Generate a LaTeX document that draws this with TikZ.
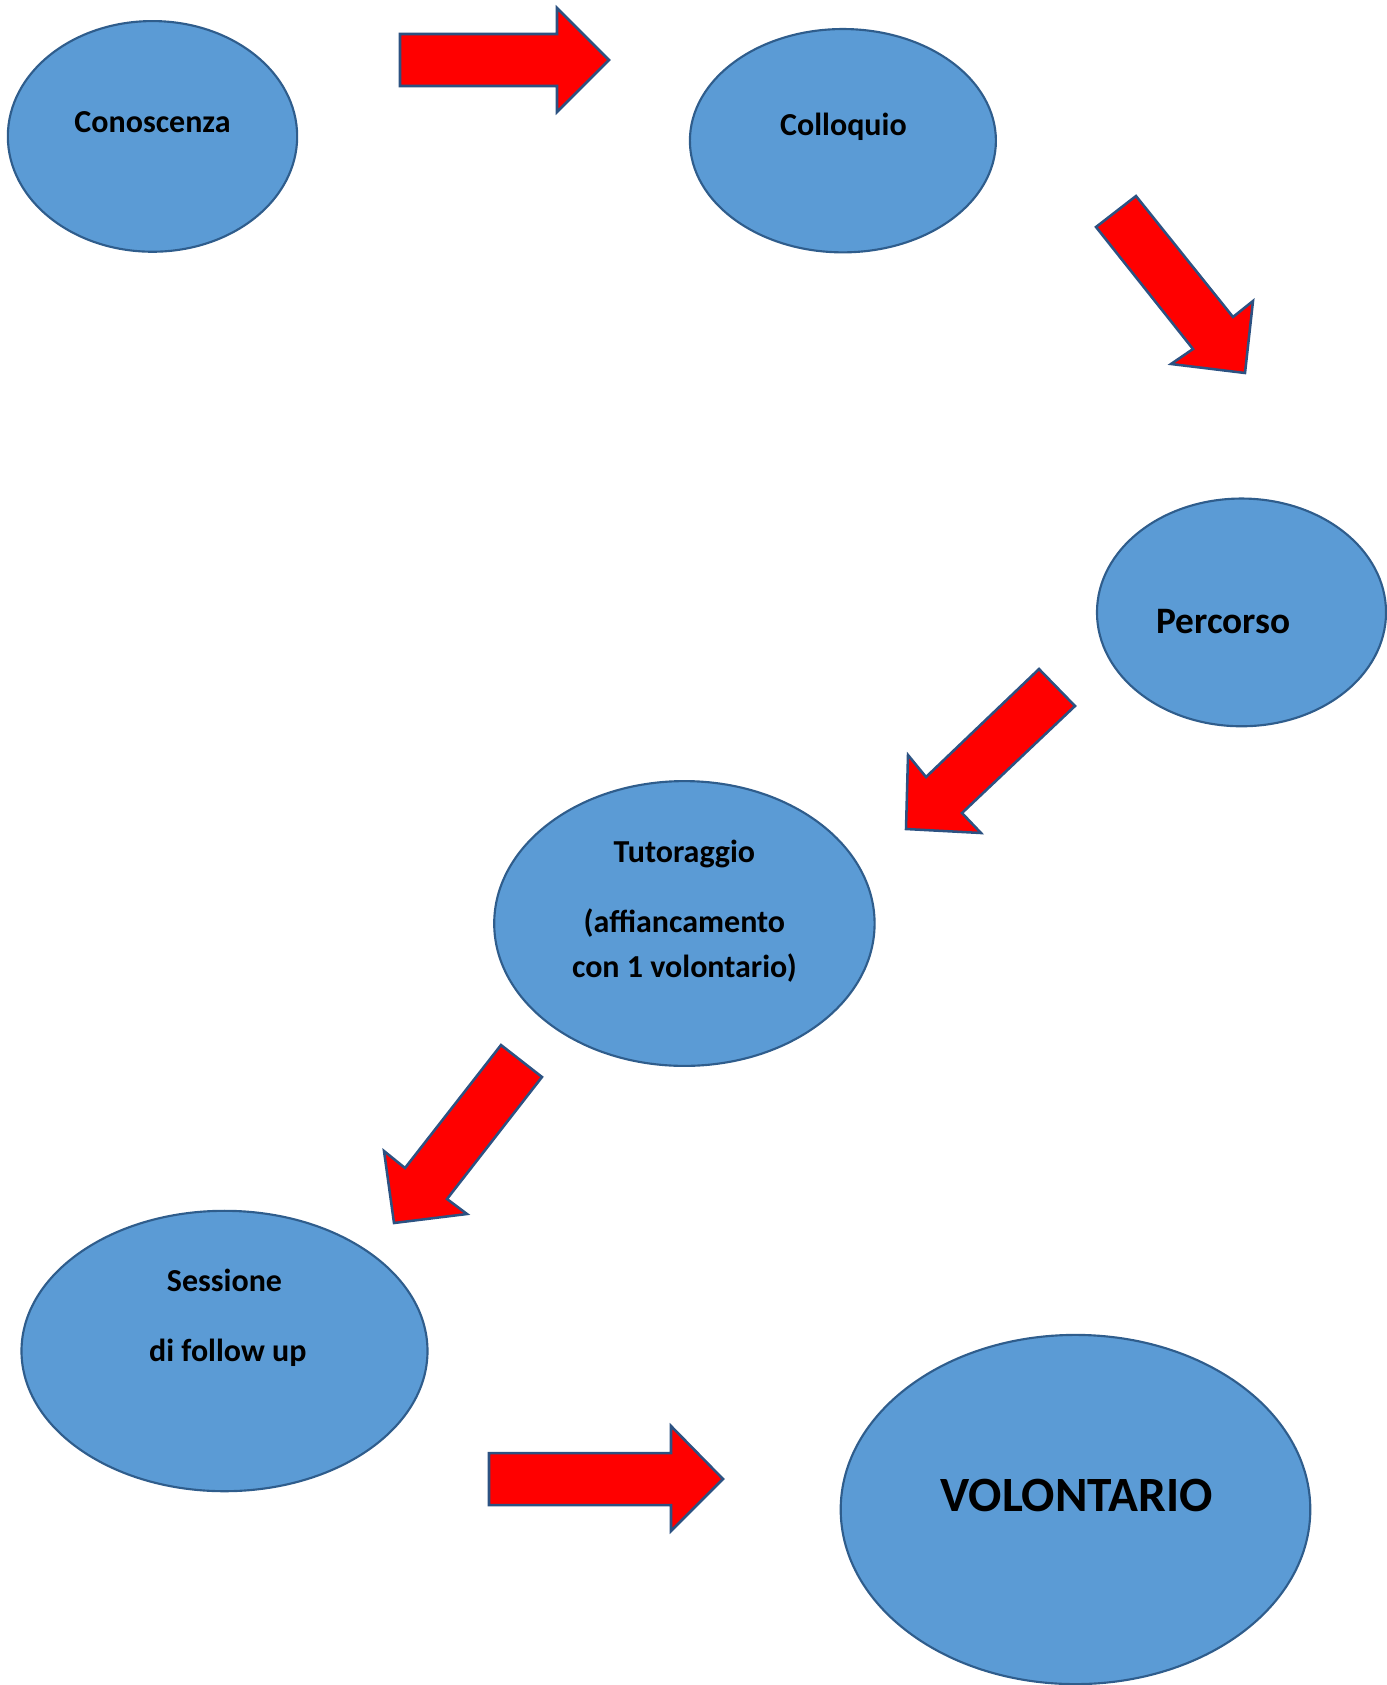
\documentclass[tikz,border=0pt]{standalone}
\usepackage{fontspec}
\setmainfont{Carlito}
\usetikzlibrary{shapes.geometric}
\definecolor{ellfill}{HTML}{5B9BD5}
\definecolor{elldraw}{HTML}{2F5D8C}
\definecolor{arrfill}{HTML}{FF0000}
\definecolor{arrdraw}{HTML}{2C5282}
\tikzset{
  ell/.style={ellipse, fill=ellfill, draw=elldraw, line width=1.6pt, inner sep=0pt},
  txt/.style={anchor=base, font=\bfseries\fontsize{24}{29}\selectfont, text=black, inner sep=0pt},
  bigtxt/.style={txt, font=\bfseries\fontsize{28}{33}\selectfont},
  hugetxt/.style={txt, font=\bfseries\fontsize{37}{44}\selectfont},
  blockarrow/.style={fill=arrfill, draw=arrdraw, line width=1.9pt, line join=miter}
}
\begin{document}
\begin{tikzpicture}[x=0.75pt,y=-0.75pt]
\useasboundingbox (0,0) rectangle (1387,1685);
% ellipses
\node[ell, minimum width=217pt, minimum height=173pt] (cono) at (152.5,136.4) {};
\node[ell, minimum width=229.5pt, minimum height=167.5pt] (coll) at (842.9,140.7) {};
\node[ell, minimum width=216.8pt, minimum height=170.8pt] (perc) at (1241.5,612.4) {};
\node[ell, minimum width=285.3pt, minimum height=213.6pt] (tuto) at (684.4,923.5) {};
\node[ell, minimum width=304.5pt, minimum height=210.3pt] (sess) at (224.5,1351) {};
\node[ell, minimum width=352.2pt, minimum height=261.9pt] (volo) at (1075.5,1509.5) {};
% texts
\node[txt] (conoT) at (152.5,132.3) {Conoscenza};
\node[txt] (collT) at (843.4,135.5) {Colloquio};
\node[bigtxt] (percT) at (1223.7,633) {Percorso};
\node[txt] (tutoT1) at (684.4,862) {Tutoraggio};
\node[txt] (tutoT2) at (684.4,932) {(affiancamento};
\node[txt] (tutoT3) at (684.4,977) {con 1 volontario)};
\node[txt] (sessT1) at (224.5,1291.5) {Sessione};
\node[txt] (sessT2) at (227.8,1361) {di follow up};
\node[hugetxt] (voloT) at (1076.5,1511) {VOLONTARIO};
% block arrows
\draw[blockarrow] (400,34) -- (557,34) -- (557,8) -- (609,60) -- (557,112) -- (557,86) -- (400,86) -- cycle;
\draw[blockarrow] (1136,196) -- (1233,317) -- (1253,301) -- (1245,373) -- (1171,364) -- (1193,349) -- (1096,227) -- cycle;
\draw[blockarrow] (1039,669) -- (1075,706) -- (962,813) -- (981,833) -- (906,829) -- (908,755) -- (926,777) -- cycle;
\draw[blockarrow] (501,1045) -- (542,1077) -- (447,1199) -- (467,1214) -- (394,1223) -- (384,1151) -- (405,1168) -- cycle;
\draw[blockarrow] (489,1453) -- (671,1453) -- (671,1426) -- (723,1479) -- (671,1531) -- (671,1505) -- (489,1505) -- cycle;
\end{tikzpicture}
\end{document}
